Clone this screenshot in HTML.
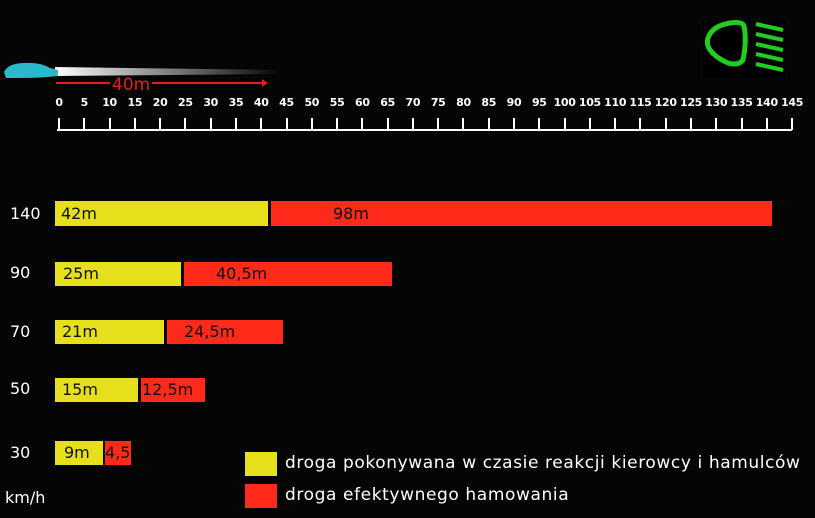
<!DOCTYPE html>
<html><head><style>
body{margin:0;background:#000;}
#c{position:relative;width:815px;height:518px;background:#050505;overflow:hidden;font-family:"DejaVu Sans","Liberation Sans",sans-serif;color:#fff;}
.b{position:absolute;height:24px;font-size:16px;color:#111;line-height:24px;}
.y{background:#e6e01c;}
.r{background:#ff2a1a;}
.l{position:absolute;font-size:16px;color:#fff;}
.lg{font-size:17px;letter-spacing:0.6px;}
.t{position:absolute;top:96px;font-size:11px;font-weight:bold;transform:translateX(-50%);letter-spacing:-0.3px;}
.k{position:absolute;top:118px;width:2px;height:12px;background:#fff;}
</style></head><body><div id="c">
<svg style="position:absolute;left:0;top:0" width="815" height="140">
<defs><linearGradient id="g" x1="0" x2="1"><stop offset="0" stop-color="#fff"/><stop offset="1" stop-color="#fff" stop-opacity="0"/></linearGradient></defs>
<polygon points="55,67 280,70 280,74 55,76" fill="url(#g)"/>
<path d="M4,72 Q8,63 25,63 Q40,62 50,68 L58,70 L58,76 Q40,78 20,78 L6,78 Z" fill="#2bb8c8"/>
<line x1="56" y1="83" x2="110" y2="83" stroke="#e02020" stroke-width="2"/>
<line x1="152" y1="83" x2="262" y2="83" stroke="#e02020" stroke-width="2"/>
<polygon points="262,79 268,83 262,87" fill="#e02020"/>
<text x="112" y="90" fill="#e02020" font-size="17" font-family="DejaVu Sans,sans-serif">40m</text>
<rect x="703" y="20" width="82" height="58" fill="#000"/>
<path d="M708,38 Q712,26 730,23 Q742,21 744,26 Q747,40 743,60 Q738,66 728,63 Q716,58 710,50 Q706,44 708,38 Z" fill="none" stroke="#22cc22" stroke-width="5"/>
<g stroke="#22cc22" stroke-width="4"><line x1="756" y1="24" x2="783" y2="30"/><line x1="756" y1="34" x2="783" y2="40"/><line x1="756" y1="44" x2="783" y2="50"/><line x1="756" y1="54" x2="783" y2="60"/><line x1="756" y1="64" x2="783" y2="70"/></g>
<line x1="57" y1="130" x2="792" y2="130" stroke="#fff" stroke-width="2"/>
</svg>
<div id="ruler"></div>
<script>
var h='';for(var i=0;i<=29;i++){var x=58+i*25.28;h+='<div class="t" style="left:'+(x+1)+'px">'+(i*5)+'</div><div class="k" style="left:'+x+'px"></div>';}
document.getElementById('ruler').innerHTML=h;
</script>
<div class="l" style="left:10px;top:204px">140</div>
<div class="b y" style="left:55px;top:201px;width:213px;height:25px;line-height:25px"><span style="padding-left:6px">42m</span></div>
<div class="b r" style="left:271px;top:201px;width:501px;height:25px;line-height:25px"><span style="padding-left:62px">98m</span></div>
<div class="l" style="left:10px;top:263px">90</div>
<div class="b y" style="left:55px;top:262px;width:126px"><span style="padding-left:8px">25m</span></div>
<div class="b r" style="left:184px;top:262px;width:208px"><span style="padding-left:32px">40,5m</span></div>
<div class="l" style="left:10px;top:322px">70</div>
<div class="b y" style="left:55px;top:320px;width:109px"><span style="padding-left:7px">21m</span></div>
<div class="b r" style="left:167px;top:320px;width:116px"><span style="padding-left:17px">24,5m</span></div>
<div class="l" style="left:10px;top:379px">50</div>
<div class="b y" style="left:55px;top:378px;width:83px"><span style="padding-left:7px">15m</span></div>
<div class="b r" style="left:141px;top:378px;width:64px"><span style="padding-left:1px">12,5m</span></div>
<div class="l" style="left:10px;top:443px">30</div>
<div class="b y" style="left:55px;top:441px;width:48px"><span style="padding-left:9px">9m</span></div>
<div class="b r" style="left:105px;top:441px;width:26px"><span style="padding-left:0px">4,5</span></div>
<div class="l" style="left:5px;top:488px">km/h</div>
<div style="position:absolute;left:245px;top:452px;width:32px;height:24px" class="y"></div>
<div style="position:absolute;left:245px;top:484px;width:32px;height:24px" class="r"></div>
<div class="l lg" style="left:285px;top:453px">droga pokonywana w czasie reakcji kierowcy i hamulców</div>
<div class="l lg" style="left:285px;top:485px">droga efektywnego hamowania</div>
</div></body></html>
